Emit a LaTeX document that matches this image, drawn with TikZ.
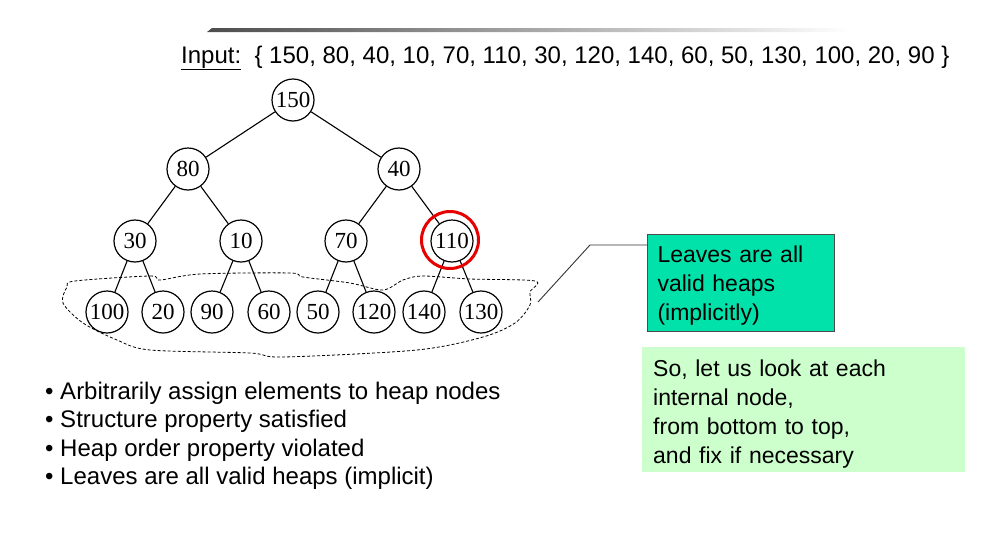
\documentclass[tikz,border=0pt]{standalone}
\usepackage{fontspec}
\setmainfont{Liberation Sans}
\newfontfamily\treefont{Liberation Serif}
\begin{document}
\begin{tikzpicture}[x=1pt,y=-1pt,
  hnode/.style={circle,draw,line width=1.2pt,minimum size=42pt,inner sep=0pt,font=\treefont\fontsize{23}{23}\selectfont},
  tedge/.style={line width=1.1pt},
  leafbox/.style={draw=black!70,line width=1pt,fill={rgb,255:red,0;green,226;blue,170},anchor=north west,minimum width=187pt,minimum height=97pt,inner sep=0pt},
  notebox/.style={fill={rgb,255:red,204;green,255;blue,204},anchor=north west,minimum width=323pt,minimum height=125pt,inner sep=0pt},
  boxtext/.style={inner sep=0pt,align=left,font=\fontsize{23}{29}\selectfont},
  blob/.style={dashed,dash pattern=on 3pt off 2pt,line width=0.8pt},
  callout/.style={line width=0.9pt,black!80},
  bullet/.style={anchor=base west,inner sep=0pt,font=\fontsize{24}{28}\selectfont}]
\useasboundingbox (0,0) rectangle (1004,541);
% gradient bar
\shade[left color=black!70,right color=white] (207,32) -- (212,28) -- (850,28) -- (850,32) -- cycle;
% input text
\node[anchor=base west,inner sep=0pt,font=\fontsize{24}{24}\selectfont] (input) at (181,63) {\underline{Input:}\ \ \{ 150, 80, 40, 10, 70, 110, 30, 120, 140, 60, 50, 130, 100, 20, 90 \}};
% tree
\node[hnode] (n150) at (293,100) {150};
\node[hnode] (n80) at (188,169) {80};
\node[hnode] (n40) at (399,169) {40};
\node[hnode] (n30) at (135,241) {30};
\node[hnode] (n10) at (241,241) {10};
\node[hnode] (n70) at (346,241) {70};
\node[hnode] (n110) at (452,241) {110};
\node[hnode] (n100) at (107,312) {100};
\node[hnode] (n20) at (163,312) {20};
\node[hnode] (n90) at (212,312) {90};
\node[hnode] (n60) at (269,312) {60};
\node[hnode] (n50) at (318,312) {50};
\node[hnode] (n120) at (374,312) {120};
\node[hnode] (n140) at (424,312) {140};
\node[hnode] (n130) at (481,312) {130};
\draw[tedge] (n150) -- (n80);
\draw[tedge] (n150) -- (n40);
\draw[tedge] (n80) -- (n30);
\draw[tedge] (n80) -- (n10);
\draw[tedge] (n40) -- (n70);
\draw[tedge] (n40) -- (n110);
\draw[tedge] (n30) -- (n100);
\draw[tedge] (n30) -- (n20);
\draw[tedge] (n10) -- (n90);
\draw[tedge] (n10) -- (n60);
\draw[tedge] (n70) -- (n50);
\draw[tedge] (n70) -- (n120);
\draw[tedge] (n110) -- (n140);
\draw[tedge] (n110) -- (n130);
% red highlight
\node[circle,draw={rgb,255:red,230;green,0;blue,0},line width=3pt,minimum size=57pt,inner sep=0pt] (hl) at (450,240) {};
% dashed blob
\draw[blob] plot[smooth cycle,tension=0.5] coordinates {(75,281) (150,276) (160,280) (200,274) (290,273) (303,277) (350,283) (383,290) (403,280) (423,276) (470,279) (535,281) (530,292) (530,305) (515,323) (483,337) (417,350) (283,357) (250,353) (150,350) (117,340) (83,323) (63,303) (67,287)};
% boxes
\node[leafbox] (leaves) at (647,234) {};
\node[boxtext,text width=167pt] (leavestext) at ([yshift=-3pt]leaves.center) {Leaves are all\\valid heaps\\(implicitly)};
\node[notebox] (note) at (642,347) {};
\node[boxtext,text width=301pt] (notetext) at ([yshift=-4pt]note.center) {So, let us look at each\\internal node,\\from bottom to top,\\and fix if necessary};
\coordinate (cstart) at (538,302);
\coordinate (cbend) at (590,245);
\draw[callout] (cstart) -- (cbend) -- (cbend -| leaves.west);
% bullets
\node[bullet] (b1) at (45,399) {\textbullet\ Arbitrarily assign elements to heap nodes};
\node[bullet] (b2) at (45,427.5) {\textbullet\ Structure property satisfied};
\node[bullet] (b3) at (45,456) {\textbullet\ Heap order property violated};
\node[bullet] (b4) at (45,484.5) {\textbullet\ Leaves are all valid heaps (implicit)};
\end{tikzpicture}
\end{document}
